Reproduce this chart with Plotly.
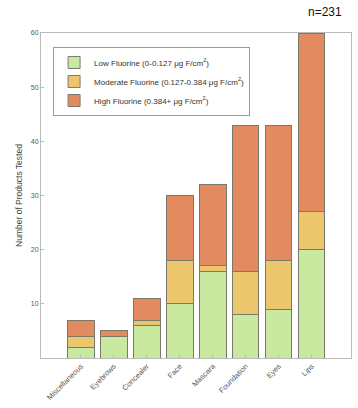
import plotly.graph_objects as go

categories = ["Miscellaneous", "Eyebrows", "Concealer", "Face", "Mascara", "Foundation", "Eyes", "Lips"]
low = [2, 4, 6, 10, 16, 8, 9, 20]
moderate = [2, 0, 1, 8, 1, 8, 9, 7]
high = [3, 1, 4, 12, 15, 27, 25, 33]
series_names = [
    "Low Fluorine (0-0.127 μg F/cm<sup>2</sup>)",
    "Moderate Fluorine (0.127-0.384 μg F/cm<sup>2</sup>)",
    "High Fluorine (0.384+ μg F/cm<sup>2</sup>)",
]
colors = ["#c9e9a0", "#ecc66c", "#e48a60"]
y_ticks = [10, 20, 30, 40, 50, 60]

fig = go.Figure()
for vals, name, col in zip([low, moderate, high], series_names, colors):
    fig.add_trace(go.Bar(
        x=categories, y=vals, name=name,
        marker=dict(color=col, line=dict(color="#7a7a6a", width=1)),
        width=0.8,
    ))

fig.update_layout(
    barmode="stack",
    width=358, height=408,
    margin=dict(l=41, r=6, t=33, b=48),
    plot_bgcolor="white", paper_bgcolor="white",
    font=dict(family="Liberation Sans, Arial, sans-serif", color="#555555", size=7),
    showlegend=True,
    legend=dict(
        x=0.039, y=0.957, xanchor="left", yanchor="top",
        bgcolor="white", bordercolor="#999999", borderwidth=1,
        font=dict(size=8, color="#333333"),
        traceorder="normal",
        itemwidth=30,
        tracegroupgap=0,
    ),
    xaxis=dict(
        range=[-1.21, 8.19], showline=True, linecolor="#bbbbbb", mirror=True,
        ticks="inside", ticklen=3, tickcolor="#bbbbbb", tickangle=-45,
        tickfont=dict(size=7.5, color="#555555"), showgrid=False,
    ),
    yaxis=dict(
        range=[0, 60], tickvals=y_ticks, showline=True, linecolor="#bbbbbb", mirror=True,
        ticks="inside", ticklen=3, tickcolor="#bbbbbb", showgrid=False, zeroline=False,
        tickfont=dict(size=7, color="#555555"),
        title=dict(text="Number of Products Tested", font=dict(size=8.5, color="#444444"), standoff=6),
    ),
    annotations=[dict(
        text="n=231", xref="paper", yref="paper", x=0.978, y=1.0, yshift=12,
        xanchor="right", yanchor="bottom", showarrow=False,
        font=dict(size=12, color="#111111"),
    )],
)

fig.write_html(
    "out.html",
    config={"displayModeBar": False},
    post_script="document.body.style.margin='0';document.body.style.overflow='hidden';",
)
